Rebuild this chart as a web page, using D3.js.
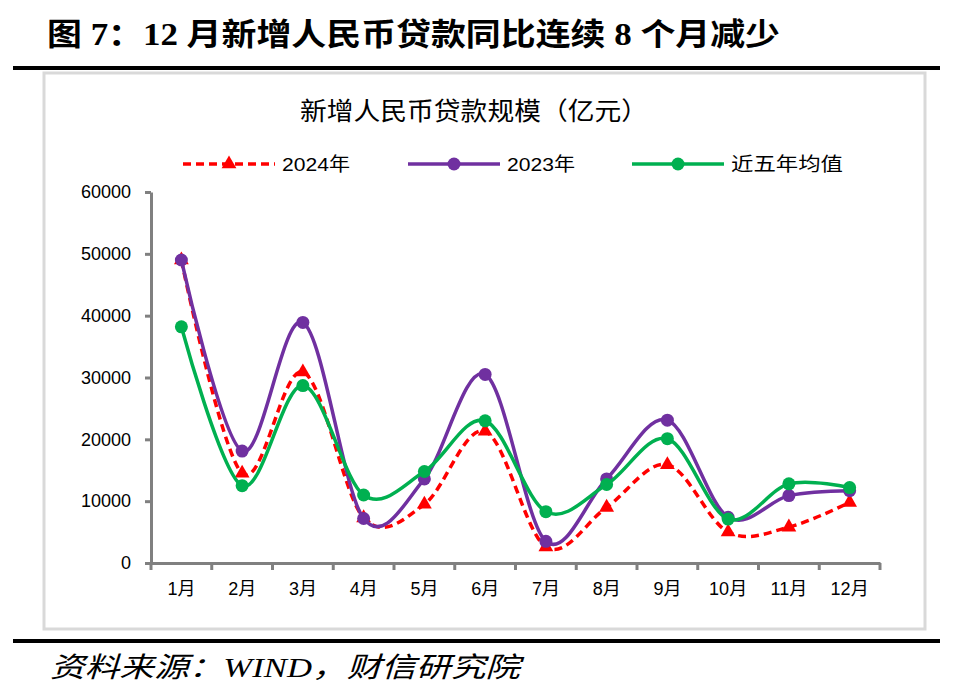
<!DOCTYPE html>
<html>
<head>
<meta charset="utf-8">
<script src="https://cdn.jsdelivr.net/npm/d3@7"></script>
<style>
body{margin:0;background:#fff}
svg{display:block}
</style>
</head>
<body>
<svg id="chart" width="964" height="688"></svg>
<script>
// data
var months = ['1月','2月','3月','4月','5月','6月','7月','8月','9月','10月','11月','12月']
var loans2024 = [49000,14500,30900,7300,9500,21300,2600,9000,15900,5000,5800,9800]
var loans2023 = [49000,18100,38900,7200,13600,30500,3500,13600,23100,7400,10900,11700]
var avg5y = [38200,12500,28700,11000,14800,23000,8300,12700,20100,7100,12800,12200]
var yTicks = [0,10000,20000,30000,40000,50000,60000]
var seriesNames = ['2024年','2023年','近五年均值']

var series = [
	{name:seriesNames[0], values:loans2024, color:'#FF0000', dash:'8,5', marker:'triangle'},
	{name:seriesNames[1], values:loans2023, color:'#7030A0', dash:null, marker:'circle'},
	{name:seriesNames[2], values:avg5y, color:'#00B050', dash:null, marker:'circle'}
]

var svg = d3.select('#chart')
var gray = '#808080'

// header
svg.append('text').text('图 7：12 月新增人民币贷款同比连续 8 个月减少')
	.attr('x',47).attr('y',45)
	.attr('textLength',733).attr('lengthAdjust','spacingAndGlyphs')
	.style('font-family','"Liberation Serif","Noto Sans CJK SC",serif')
	.style('font-weight','bold').style('font-size','31px')

svg.append('rect').attr('x',13).attr('y',66).attr('width',927).attr('height',4).attr('fill','#000')
svg.append('rect').attr('x',13).attr('y',639).attr('width',927).attr('height',4).attr('fill','#000')

// chart frame
svg.append('rect').attr('x',44).attr('y',73).attr('width',881).attr('height',556)
	.attr('fill','#fff').attr('stroke','#d9d9d9').attr('stroke-width',3)

svg.append('text').text('新增人民币贷款规模（亿元）')
	.attr('x',300).attr('y',120)
	.attr('textLength',348).attr('lengthAdjust','spacingAndGlyphs')
	.style('font-family','"Noto Sans CJK SC",sans-serif').style('font-size','25px')

// footer
svg.append('text').text('资料来源：WIND，财信研究院')
	.attr('x',50).attr('y',677)
	.attr('textLength',470).attr('lengthAdjust','spacingAndGlyphs')
	.style('font-family','"Liberation Serif","Noto Sans CJK SC",serif')
	.style('font-style','italic').style('font-size','28px')

var x = d3.scaleBand().domain(months).range([151,880]).padding(0)
var y = d3.scaleLinear().domain([0,60000]).range([563,192])

// y axis
var yAxis = svg.append('g').attr('transform','translate(151,0)')
	.call(d3.axisLeft(y).tickValues(yTicks).tickSize(6).tickSizeOuter(0).tickPadding(14).tickFormat(d3.format('d')))
yAxis.select('.domain').attr('stroke',gray).attr('stroke-width',3)
yAxis.selectAll('.tick line').attr('stroke',gray).attr('stroke-width',3)
yAxis.selectAll('.tick text').style('font-family','"Liberation Sans",Arial,sans-serif').style('font-size','18px').attr('fill','#000')

// x axis
var xAxis = svg.append('g').attr('transform','translate(0,563)')
	.call(d3.axisBottom(x).tickSize(0).tickSizeOuter(0).tickPadding(19))
xAxis.select('.domain').attr('stroke',gray).attr('stroke-width',3)
xAxis.selectAll('.tick text').style('font-family','"Liberation Sans","Noto Sans CJK SC",sans-serif').style('font-size','18px').attr('fill','#000')
xAxis.selectAll('.bound').data(d3.range(months.length+1)).enter().append('line')
	.attr('x1',d=>151+d*x.step()).attr('x2',d=>151+d*x.step())
	.attr('y1',0).attr('y2',7)
	.attr('stroke',gray).attr('stroke-width',3)

// lines
var line = d3.line()
	.x((d,i)=>x(months[i])+x.bandwidth()/2)
	.y(d=>y(d))
	.curve(d3.curveCardinal.tension(0))

var tri = d3.symbol().type(d3.symbolTriangle).size(95)

series.forEach(s=>{
	var g = svg.append('g').attr('class','series')
	g.append('path').datum(s.values)
		.attr('d',line).attr('fill','none')
		.attr('stroke',s.color).attr('stroke-width',3.5)
		.attr('stroke-dasharray',s.dash)
	if (s.marker=='triangle') {
		g.selectAll('path.mk').data(s.values).enter().append('path').attr('class','mk')
			.attr('d',tri)
			.attr('transform',(d,i)=>`translate(${x(months[i])+x.bandwidth()/2},${y(d)})`)
			.attr('fill',s.color)
	}
	else {
		g.selectAll('circle').data(s.values).enter().append('circle')
			.attr('cx',(d,i)=>x(months[i])+x.bandwidth()/2)
			.attr('cy',d=>y(d)).attr('r',6.5)
			.attr('fill',s.color)
	}
})

// legend
var legendX = [183,408,632]
var legendW = [68,68,112]
var legend = svg.append('g')
series.forEach((s,i)=>{
	var lg = legend.append('g').attr('transform',`translate(${legendX[i]},164)`)
	lg.append('line').attr('x1',0).attr('x2',92).attr('y1',0).attr('y2',0)
		.attr('stroke',s.color).attr('stroke-width',3.5)
		.attr('stroke-dasharray',s.dash)
	if (s.marker=='triangle')
		lg.append('path').attr('d',tri).attr('transform','translate(46,0)').attr('fill',s.color)
	else
		lg.append('circle').attr('cx',46).attr('cy',0).attr('r',6.5).attr('fill',s.color)
	lg.append('text').text(s.name).attr('x',99).attr('y',7)
		.attr('textLength',legendW[i]).attr('lengthAdjust','spacingAndGlyphs')
		.style('font-family','"Liberation Sans","Noto Sans CJK SC",sans-serif').style('font-size','19px')
})
</script>
</body>
</html>
